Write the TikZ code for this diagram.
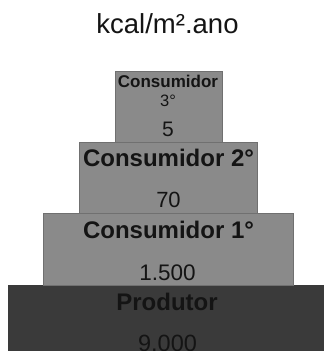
\documentclass[tikz,border=0pt]{standalone}
\usepackage{fontspec}
\setmainfont{Liberation Sans}
\definecolor{midgray}{HTML}{8A8A8A}
\definecolor{edgegray}{HTML}{707070}
\definecolor{darkgray2}{HTML}{3A3A3A}
\definecolor{txt}{HTML}{141414}
\begin{document}
\begin{tikzpicture}[x=1pt,y=-1pt,
  level/.style={fill=midgray,draw=edgegray,line width=0.8pt},
  base/.style={fill=darkgray2,draw=none},
  lbl/.style={anchor=base,inner sep=0pt,text=txt}]
\useasboundingbox (0,0) rectangle (324,351);
\fill[white] (0,0) rectangle (324,351);
% levels
\draw[base] (7.5,285) rectangle (330,360);
\draw[level] (43,213.5) rectangle (293.3,285);
\draw[level] (79,142.5) rectangle (257.5,213.5);
\draw[level] (115,71) rectangle (222,142.5);
% texts
\node[lbl,font=\fontsize{27.5}{30}\selectfont] (title) at (167.5,33.3) {kcal/m².ano};
\node[lbl,font=\fontsize{17}{19}\selectfont\bfseries] (c3) at (168,87.3) {Consumidor};
\node[lbl,font=\fontsize{16.5}{18}\selectfont] (c3b) at (168,106.7) {3°};
\node[lbl,font=\fontsize{21}{23}\selectfont] (v5) at (168,136.7) {5};
\node[lbl,font=\fontsize{24}{26}\selectfont\bfseries] (c2) at (168.5,166.7) {Consumidor 2°};
\node[lbl,font=\fontsize{22}{24}\selectfont] (v70) at (168.5,207.3) {70};
\node[lbl,font=\fontsize{24}{26}\selectfont\bfseries] (c1) at (168.5,238.3) {Consumidor 1°};
\node[lbl,font=\fontsize{22.5}{24}\selectfont] (v1500) at (167.5,280) {1.500};
\node[lbl,font=\fontsize{24}{26}\selectfont\bfseries] (prod) at (167,310) {Produtor};
\node[lbl,font=\fontsize{23.5}{26}\selectfont] (v9000) at (167.5,351) {9.000};
\end{tikzpicture}
\end{document}
